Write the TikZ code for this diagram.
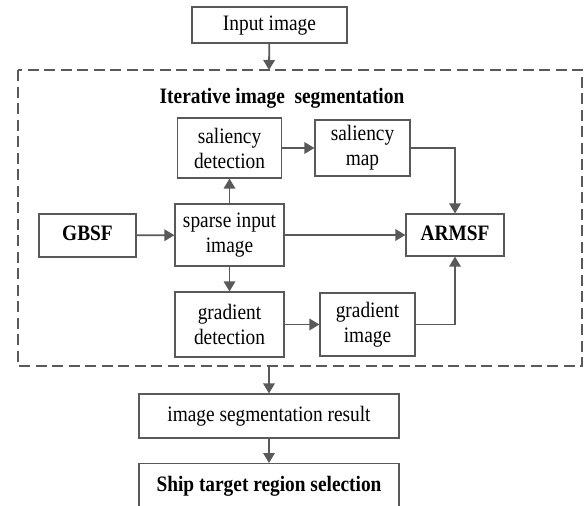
\documentclass[tikz,border=0pt]{standalone}
\usepackage{fontspec}
\setmainfont{Liberation Serif}[FakeStretch=0.88]
\usetikzlibrary{arrows.meta}
\definecolor{lc}{HTML}{595959}
\newcommand{\fsz}{\fontsize{22}{24}\selectfont}
\begin{document}
\begin{tikzpicture}[x=1pt,y=-1pt,
  box/.style={draw=lc,line width=1.2pt,inner sep=0pt,align=center,font=\fsz},
  two/.style={execute at begin node=\setlength{\baselineskip}{25pt}},
  one/.style={text height=15pt,text depth=4.5pt},
  arr/.style={draw=lc,line width=1.8pt,-{Triangle[length=10pt,width=11.5pt]}},
  dbox/.style={draw=lc,line width=2.4pt,dash pattern=on 11pt off 5.5pt}]
\useasboundingbox (0,0) rectangle (584,506);
\node[box,one,minimum width=155pt,minimum height=36pt] (in) at (269.5,25) {Input image};
\draw[dbox] (18,70) rectangle (582,366);
\coordinate (dtop) at (269,70);
\coordinate (dbot) at (269,366);
\node[one,font=\bfseries\fsz] (title) at (282,98) {Iterative image\ \ segmentation};
\node[box,two,minimum width=104pt,minimum height=60pt] (sd) at (229.5,148) {saliency\\detection};
\node[box,two,minimum width=95pt,minimum height=56pt] (sm) at (362.5,148) {saliency\\map};
\node[box,one,minimum width=97pt,minimum height=43pt,font=\bfseries\fsz] (gbsf) at (87.5,235.5) {GBSF};
\node[box,two,minimum width=109pt,minimum height=62pt] (sp) at (229.5,235) {sparse input\\image};
\node[box,one,minimum width=98pt,minimum height=42pt,font=\bfseries\fsz] (ar) at (455,235) {ARMSF};
\node[box,two,minimum width=109pt,minimum height=65pt] (gd) at (229.5,324.5) {gradient\\detection};
\node[box,two,minimum width=95pt,minimum height=63pt] (gi) at (367.5,324.5) {gradient\\image};
\node[box,one,minimum width=260pt,minimum height=44pt] (res) at (269,416) {image segmentation result};
\node[box,minimum width=260pt,minimum height=60pt,anchor=north] (ship) at (269,463) {};
\node[one,font=\bfseries\fsz] (shiptxt) at (269,486) {Ship target region selection};
\draw[arr] (in) -- (dtop);
\draw[arr] (sp) -- (sd);
\draw[arr] (sd) -- (sm);
\draw[arr] (sm.east) -| (ar.north);
\draw[arr] (gbsf) -- (sp);
\draw[arr] (sp) -- (ar);
\draw[arr] (sp) -- (gd);
\draw[arr] (gd) -- (gi);
\draw[arr] (gi.east) -| (ar.south);
\draw[arr] (dbot) -- (res);
\draw[arr] (res) -- (ship);
\end{tikzpicture}
\end{document}
